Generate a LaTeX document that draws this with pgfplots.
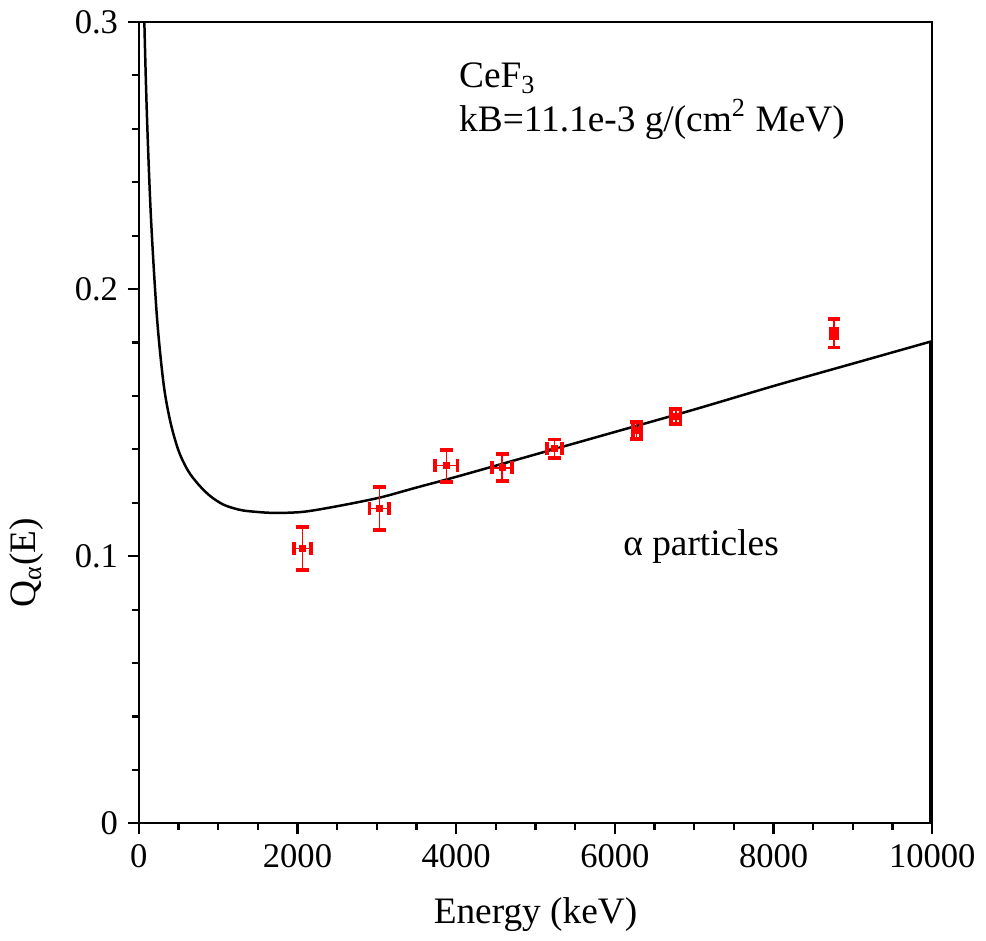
\documentclass[border=0pt]{standalone}
\usepackage{pgfplots}
\pgfplotsset{compat=1.18}
\usepackage{fontspec}
\setmainfont{LiberationSerif}[Extension=.ttf, UprightFont=*-Regular, BoldFont=*-Bold, ItalicFont=*-Italic, BoldItalicFont=*-BoldItalic]
\begin{document}
\begin{tikzpicture}
\begin{axis}[name=ax, scale only axis, width=286.92pt, height=289.8pt,
  xmin=0, xmax=10000, ymin=0, ymax=0.3,
  xtick={0,2000,4000,6000,8000,10000}, minor x tick num=3,
  ytick={0,0.1,0.2,0.3}, yticklabels={0,0.1,0.2,0.3}, minor y tick num=4,
  tick pos=left, tick align=outside,
  major tick length=4pt, minor tick length=2.5pt,
  every tick/.style={black, line width=0.8pt},
  axis line style={line width=0.6pt},
  /pgf/number format/assume math mode=true,
  scaled x ticks=false,
  xticklabel style={/pgf/number format/1000 sep={}},
  ticklabel style={font=\fontsize{12.5}{15}\selectfont},
  label style={font=\fontsize{13.5}{16}\selectfont},
  xlabel={Energy (keV)},
  xlabel style={yshift=-4pt},
  ylabel={Q\textsubscript{α}(E)},
  ylabel style={at={(axis description cs:-0.142,0.325)}, anchor=center},
  clip=true,
]
\addplot[black, line width=0.9pt, smooth] coordinates {
(55,0.330) (70,0.300) (104,0.2635) (154,0.2262) (230,0.189) (314,0.1641)
(400,0.1500) (502,0.1394) (620,0.1320) (753,0.1268) (900,0.1225)
(1066,0.1193) (1250,0.1175) (1401,0.1168) (1700,0.1162) (2070,0.1166)
(2500,0.1187) (3032,0.1219) (3500,0.1257) (4000,0.1297) (5000,0.1381)
(6000,0.1465) (7000,0.1549) (8000,0.1637) (9000,0.1721) (10000,0.1805)
};
\addplot[black, line width=2pt] coordinates {(10000,0.1805) (10000,0)};
\addplot[red, only marks, mark=square*, mark size=1.0pt, line width=0.6pt,
  error bars/.cd, x dir=both, y dir=both, x explicit, y explicit,
  error mark=|,
  error bar style={red, line width=0.6pt},
  error mark options={red, line width=1.4pt, mark size=2.3pt}]
coordinates {
(2061,0.1029) +- (105,0.0080)
(3032,0.1179) +- (125,0.0080)
(3877,0.1339) +- (140,0.0060)
(4580,0.1331) +- (125,0.0050)
(5241,0.1403) +- (94,0.0034)
(6274,0.1470) +- (50,0.0031)
(6767,0.1523) +- (60,0.0029)
(8762,0.1834) +- (40,0.0053)
};
\node[anchor=base west, font=\fontsize{13.5}{16}\selectfont] at (axis cs:3915,0.2754) {CeF\textsubscript{3}};
\node[anchor=base west, font=\fontsize{13.5}{16}\selectfont] at (axis cs:3915,0.2590) {kB=11.1e-3 g/(cm\textsuperscript{2} MeV)};
\node[anchor=base west, font=\fontsize{13.5}{16}\selectfont] at (axis cs:5985,0.1003) {α particles};
\end{axis}
\path (ax.south west) ++(-48.6pt,-38.88pt) rectangle ++(354.96pt,336.6pt);
\end{tikzpicture}
\end{document}
